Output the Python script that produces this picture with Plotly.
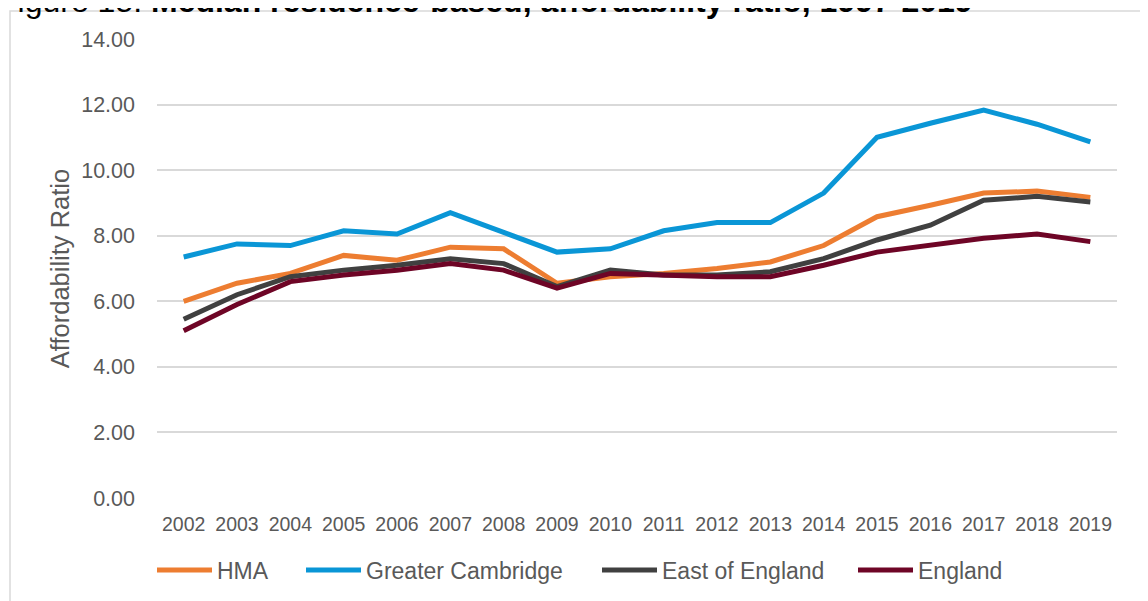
import plotly.graph_objects as go

years = ["2002", "2003", "2004", "2005", "2006", "2007", "2008", "2009", "2010",
         "2011", "2012", "2013", "2014", "2015", "2016", "2017", "2018", "2019"]

hma = [6.00, 6.55, 6.85, 7.40, 7.25, 7.65, 7.60, 6.55, 6.75,
       6.85, 7.00, 7.20, 7.70, 8.58, 8.93, 9.30, 9.36, 9.17]
greater_cambridge = [7.35, 7.75, 7.70, 8.15, 8.05, 8.70, 8.10, 7.50, 7.60,
                     8.15, 8.40, 8.40, 9.30, 11.00, 11.43, 11.83, 11.40, 10.86]
east_of_england = [5.45, 6.20, 6.75, 6.95, 7.10, 7.30, 7.15, 6.45, 6.95,
                   6.80, 6.80, 6.90, 7.30, 7.87, 8.32, 9.08, 9.20, 9.03]
england = [5.10, 5.90, 6.60, 6.80, 6.95, 7.15, 6.95, 6.40, 6.85,
           6.80, 6.75, 6.75, 7.10, 7.50, 7.70, 7.92, 8.05, 7.82]

series_names = ["HMA", "Greater Cambridge", "East of England", "England"]
series_values = [hma, greater_cambridge, east_of_england, england]
series_colors = ["#ED7D31", "#0A96D6", "#404040", "#6E0526"]
legend_ids = ["legend", "legend2", "legend3", "legend4"]

y_ticks = [0, 2, 4, 6, 8, 10, 12, 14]

# page has an 8px body margin: figure coords = page coords - 8
OFF = 8
W, H = 1148 - OFF, 601 - OFF
L, T = 157 - OFF, 39 - OFF
R = W - (1117 - OFF)
B = H - (498 - OFF)
pw, ph = W - L - R, H - T - B


def px_x(x):
    return (x - OFF - L) / pw


def px_y(y):
    return (H - B - (y - OFF)) / ph


fig = go.Figure()
for name, vals, col, lg in zip(series_names, series_values, series_colors, legend_ids):
    fig.add_trace(go.Scatter(x=years, y=vals, name=name, mode="lines",
                             line=dict(color=col, width=5), legend=lg))

legend_line_starts = [157, 306, 602, 858]
legend_style = dict(orientation="h", xanchor="left", yanchor="middle",
                    font=dict(size=23, color="#595959"), itemwidth=55,
                    bgcolor="rgba(0,0,0,0)")
legends = {}
for lg, xs in zip(legend_ids, legend_line_starts):
    legends[lg] = dict(x=px_x(xs - 5), y=px_y(570), **legend_style)

fig.update_layout(
    width=W, height=H,
    margin=dict(l=L, r=R, t=T, b=B, autoexpand=False),
    paper_bgcolor="white", plot_bgcolor="white",
    font=dict(family="Liberation Sans, Arial, sans-serif", color="#595959"),
    showlegend=True,
    xaxis=dict(type="category", range=[-0.5, 17.5], showgrid=False,
               showline=False, zeroline=False, ticks="",
               tickfont=dict(size=19.5, color="#595959"),
               ticklabelstandoff=12),
    yaxis=dict(range=[0, 14], tickvals=y_ticks, tickformat=".2f",
               showgrid=True, gridcolor="#D9D9D9", gridwidth=1.5,
               zeroline=False, showline=False, ticks="",
               tickfont=dict(size=21.5, color="#595959"),
               ticklabelstandoff=21,
               title=dict(text="Affordability Ratio", standoff=4,
                          font=dict(size=25.5, color="#595959"))),
    shapes=[dict(type="rect", xref="paper", yref="paper",
                 x0=px_x(10), x1=px_x(1143), y0=px_y(650), y1=px_y(11),
                 line=dict(color="#D9D9D9", width=1.5), layer="below")],
    annotations=[dict(text="Figure 15: <b>Median residence-based, affordability ratio, 1997-2019</b>",
                      xref="paper", yref="paper", x=px_x(-4), y=px_y(20.5),
                      xanchor="left", yanchor="bottom", showarrow=False,
                      font=dict(size=32, color="#000000"))],
    **legends,
)

fig.write_html("out.html")
